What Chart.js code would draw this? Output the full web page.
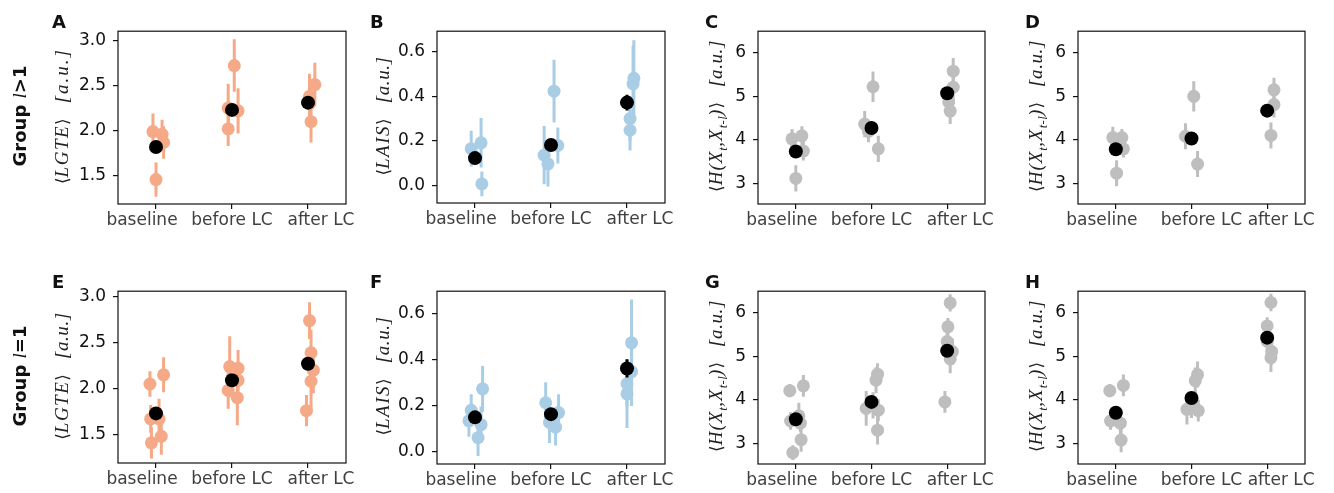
<!DOCTYPE html>
<html>
<head>
<meta charset="utf-8">
<script src="https://cdn.jsdelivr.net/npm/chart.js@4.4.1/dist/chart.umd.min.js"></script>
<style>
  body { margin: 0; background: #fff; width: 1334px; height: 493px; position: relative; overflow: hidden; font-family: 'DejaVu Sans', sans-serif; }
  canvas { position: absolute; }
  .rot { position: absolute; transform: translate(-50%, -50%) rotate(-90deg); white-space: nowrap; }
  .ylab { font-family: 'Liberation Serif', 'DejaVu Serif', serif; font-style: italic; font-size: 19px; letter-spacing: 1.5px; color: #222; }
  .ylab.ent { letter-spacing: 1px; }
  .ylab sub { font-size: 13px; letter-spacing: 0.3px; }
  .ylab .br { font-family: 'DejaVu Serif', serif; font-style: normal; font-size: 17px; letter-spacing: 0; }
  .ylab .unit { margin-left: 15px; letter-spacing: 0.6px; }
  .ylab .unit.wide { letter-spacing: 2px; }
  .group { font-weight: bold; font-size: 18px; color: #111; }
  .group i { font-family: 'Liberation Serif', serif; font-weight: normal; font-size: 19px; }
  .letter { position: absolute; font-weight: bold; font-size: 18px; color: #111; }
</style>
</head>
<body>
<script>
const categories = ['baseline', 'before LC', 'after LC'];

// A: LGTE, group l>1
const lgteHighX = [-0.04, 0.08, 0.10, 0.00, 0.95, 0.95, 1.03, 1.08, 2.02, 2.09, 2.04, 2.02];
const lgteHighY = [1.99, 1.96, 1.87, 1.46, 2.25, 2.02, 2.72, 2.22, 2.30, 2.51, 2.10, 2.38];
const lgteHighErr = [0.20, 0.16, 0.18, 0.19, 0.27, 0.19, 0.29, 0.25, 0.20, 0.24, 0.23, 0.25];
const lgteHighMean = [1.82, 2.23, 2.31];
const lgteHighMeanErr = [0.03, 0.03, 0.03];

// B: LAIS, group l>1
const laisHighX = [-0.05, 0.08, 0.09, 0.91, 0.96, 1.04, 1.09, 2.04, 2.04, 2.08, 2.09];
const laisHighY = [0.166, 0.192, 0.009, 0.137, 0.098, 0.422, 0.18, 0.248, 0.30, 0.454, 0.479];
const laisHighErr = [0.08, 0.11, 0.055, 0.13, 0.10, 0.14, 0.08, 0.09, 0.10, 0.17, 0.17];
const laisHighMean = [0.124, 0.182, 0.371];
const laisHighMeanErr = [0.02, 0.02, 0.035];

// C: H(Xt, Xt-l), group l>1
const entHighX = [-0.05, 0.08, 0.10, 0.00, 0.91, 0.96, 1.02, 1.09, 2.08, 2.08, 2.02, 2.04];
const entHighY = [4.02, 4.09, 3.74, 3.11, 4.36, 4.19, 5.22, 3.79, 5.58, 5.21, 4.87, 4.66];
const entHighErr = [0.23, 0.22, 0.22, 0.30, 0.30, 0.25, 0.35, 0.30, 0.30, 0.30, 0.30, 0.30];
const entHighMean = [3.73, 4.27, 5.07];
const entHighMeanErr = [0.05, 0.05, 0.05];

// D: H(Xt, Xt-l) second measure, group l>1
const ent2HighX = [-0.04, 0.08, 0.10, 0.01, 0.92, 1.03, 1.08, 2.09, 2.09, 2.05];
const ent2HighY = [4.05, 4.05, 3.79, 3.23, 4.08, 5.00, 3.44, 5.15, 4.81, 4.10];
const ent2HighErr = [0.25, 0.20, 0.20, 0.30, 0.30, 0.35, 0.30, 0.28, 0.30, 0.30];
const ent2HighMean = [3.78, 4.03, 4.67];
const ent2HighMeanErr = [0.05, 0.05, 0.05];

// E: LGTE, group l=1
const lgteOneX = [-0.08, 0.10, -0.07, 0.04, -0.06, 0.07, 0.95, 0.97, 1.08, 1.08, 1.07, 2.02, 2.04, 2.07, 2.04, 1.98];
const lgteOneY = [2.05, 2.15, 1.67, 1.67, 1.41, 1.48, 1.98, 2.24, 2.22, 2.09, 1.90, 2.74, 2.39, 2.20, 2.08, 1.76];
const lgteOneErr = [0.14, 0.19, 0.15, 0.22, 0.17, 0.20, 0.20, 0.33, 0.20, 0.20, 0.30, 0.20, 0.25, 0.25, 0.30, 0.17];
const lgteOneMean = [1.73, 2.09, 2.27];
const lgteOneMeanErr = [0.03, 0.03, 0.03];

// F: LAIS, group l=1
const laisOneX = [-0.05, -0.08, 0.10, 0.08, 0.04, 0.93, 0.98, 1.10, 1.06, 2.06, 2.06, 2.00, 2.00];
const laisOneY = [0.179, 0.133, 0.273, 0.116, 0.059, 0.212, 0.126, 0.169, 0.105, 0.474, 0.348, 0.295, 0.251];
const laisOneErr = [0.07, 0.07, 0.10, 0.08, 0.08, 0.09, 0.09, 0.08, 0.08, 0.19, 0.15, 0.10, 0.15];
const laisOneMean = [0.148, 0.162, 0.362];
const laisOneMeanErr = [0.02, 0.02, 0.04];

// G: H(Xt, Xt-l), group l=1
const entOneX = [-0.08, 0.10, -0.07, 0.04, 0.06, 0.07, -0.04, 0.93, 1.02, 1.06, 1.08, 1.09, 1.08, 2.04, 2.01, 2.00, 2.07, 2.04, 1.97];
const entOneY = [4.21, 4.32, 3.51, 3.63, 3.46, 3.08, 2.78, 3.80, 3.87, 4.45, 4.59, 3.76, 3.30, 6.23, 5.68, 5.34, 5.11, 4.94, 3.95];
const entOneErr = [0.15, 0.25, 0.20, 0.30, 0.20, 0.28, 0.17, 0.40, 0.30, 0.30, 0.25, 0.25, 0.33, 0.20, 0.20, 0.25, 0.30, 0.33, 0.25];
const entOneMean = [3.55, 3.95, 5.13];
const entOneMeanErr = [0.05, 0.05, 0.05];

// H: H(Xt, Xt-l) second measure, group l=1
const ent2OneX = [-0.08, 0.10, -0.07, 0.06, 0.07, 0.94, 1.05, 1.08, 1.09, 1.00, 2.05, 2.00, 2.06, 2.05, 2.00];
const ent2OneY = [4.21, 4.33, 3.51, 3.46, 3.07, 3.78, 4.44, 4.58, 3.75, 3.88, 6.24, 5.70, 5.11, 4.97, 5.35];
const ent2OneErr = [0.15, 0.25, 0.20, 0.25, 0.28, 0.35, 0.30, 0.30, 0.25, 0.30, 0.20, 0.20, 0.30, 0.33, 0.20];
const ent2OneMean = [3.70, 4.04, 5.43];
const ent2OneMeanErr = [0.05, 0.05, 0.05];

const lgteTicks = [1.5, 2.0, 2.5, 3.0];
const laisTicks = [0.0, 0.2, 0.4, 0.6];
const entTicks = [3, 4, 5, 6];

const ORANGE = '#f5a986', BLUE = '#a9cde5', GRAY = '#bebebe';

// error bars drawn under each dataset's markers
const errorBars = {
  id: 'errorBars',
  beforeDatasetDraw(chart, args) {
    const ds = chart.data.datasets[args.index];
    const xs = chart.scales.x, ys = chart.scales.y, ctx = chart.ctx, a = chart.chartArea;
    ctx.save();
    ctx.beginPath();
    ctx.rect(a.left, a.top, a.right - a.left, a.bottom - a.top);
    ctx.clip();
    ctx.strokeStyle = ds.errColor;
    ctx.lineWidth = 3;
    ds.data.forEach(p => {
      const px = xs.getPixelForValue(p.x);
      ctx.beginPath();
      ctx.moveTo(px, ys.getPixelForValue(p.y - p.e));
      ctx.lineTo(px, ys.getPixelForValue(p.y + p.e));
      ctx.stroke();
    });
    ctx.restore();
  }
};

// full axes box like matplotlib spines, plus category labels nudged apart as in the figure
const frame = {
  id: 'frame',
  afterDraw(chart) {
    const a = chart.chartArea, ctx = chart.ctx, xs = chart.scales.x;
    const nudge = chart.options.plugins.frame.nudge;
    ctx.save();
    ctx.strokeStyle = '#111';
    ctx.lineWidth = 1.2;
    ctx.strokeRect(a.left, a.top, a.right - a.left, a.bottom - a.top);
    ctx.fillStyle = '#404040';
    ctx.font = '17px "DejaVu Sans"';
    ctx.textAlign = 'center';
    ctx.textBaseline = 'top';
    categories.forEach((c, i) => {
      ctx.fillText(c, xs.getPixelForValue(i) + nudge[i], a.bottom + 8);
    });
    ctx.restore();
  }
};

function addText(cls, html, x, y) {
  const d = document.createElement('div');
  d.className = cls;
  d.innerHTML = html;
  d.style.left = x + 'px';
  d.style.top = y + 'px';
  document.body.appendChild(d);
}

function makePanel(cfg) {
  const padL = 75, padT = 14, padR = 30, padB = 36;
  const w = cfg.box.r - cfg.box.l, h = cfg.box.b - cfg.box.t;
  const cv = document.createElement('canvas');
  cv.width = w + padL + padR;
  cv.height = h + padT + padB;
  cv.style.left = (cfg.box.l - padL) + 'px';
  cv.style.top = (cfg.box.t - padT) + 'px';
  document.body.appendChild(cv);

  const pts = cfg.x.map((x, i) => ({ x: x, y: cfg.y[i], e: cfg.err[i] }));
  const means = cfg.mean.map((m, i) => ({ x: i, y: m, e: cfg.meanErr[i] }));

  new Chart(cv, {
    type: 'scatter',
    data: {
      datasets: [
        { data: means, order: 0, errColor: '#000', backgroundColor: '#000', borderWidth: 0, pointRadius: 7 },
        { data: pts, order: 1, errColor: cfg.color, backgroundColor: cfg.color, borderWidth: 0, pointRadius: 6.5 }
      ]
    },
    options: {
      responsive: false,
      animation: false,
      events: [],
      layout: { padding: { top: padT, right: padR, left: 0, bottom: 0 } },
      plugins: { legend: { display: false }, tooltip: { enabled: false }, frame: { nudge: cfg.nudge } },
      scales: {
        x: {
          type: 'linear', min: -0.5, max: 2.5,
          afterBuildTicks: s => { s.ticks = categories.map((c, i) => ({ value: i })); },
          afterFit: s => { s.height = padB; },
          ticks: { callback: () => '', padding: 3, maxRotation: 0, autoSkip: false },
          grid: { display: true, drawOnChartArea: false, drawTicks: true, tickLength: 5, color: '#111', lineWidth: 1.2 },
          border: { display: false }
        },
        y: {
          min: cfg.min, max: cfg.max,
          afterBuildTicks: s => { s.ticks = cfg.ticks.map(v => ({ value: v })); },
          afterFit: s => { s.width = padL; },
          ticks: { callback: v => v.toFixed(cfg.dec), color: '#111', font: { family: 'DejaVu Sans', size: 17 }, padding: 7 },
          grid: { display: true, drawOnChartArea: false, drawTicks: true, tickLength: 5, color: '#111', lineWidth: 1.2 },
          border: { display: false }
        }
      }
    },
    plugins: [errorBars, frame]
  });

  addText('letter', cfg.letter, cfg.letterX, cfg.box.t - 17);
  addText(cfg.ylabClass, cfg.ylabel, cfg.ylabX, (cfg.box.t + cfg.box.b) / 2);
}

const lgteLab = '<span class="br">⟨</span>LGTE<span class="br">⟩</span><span class="unit wide">[a.u.]</span>';
const lgteLab2 = '<span class="br">⟨</span>LGTE<span class="br">⟩</span><span class="unit">[a.u.]</span>';
const laisLab = '<span class="br">⟨</span>LAIS<span class="br">⟩</span><span class="unit">[a.u.]</span>';
const entLab = '<span class="br">⟨</span>H(X<sub>t</sub>,X<sub>t-l</sub>)<span class="br">⟩</span><span class="unit">[a.u.]</span>';

const nudgeA = [-14, 0, 13], nudgeD = [-14, 10, 14];

const panels = [
  { letter: 'A', letterX: 52, ylabX: 62, box: { l: 118, t: 28, r: 346, b: 204 }, x: lgteHighX, y: lgteHighY, err: lgteHighErr, mean: lgteHighMean, meanErr: lgteHighMeanErr, color: ORANGE, min: 1.19, max: 3.10, ticks: lgteTicks, dec: 1, ylabel: lgteLab, ylabClass: 'rot ylab', nudge: nudgeA },
  { letter: 'B', letterX: 370, ylabX: 383, box: { l: 437, t: 28, r: 665, b: 203 }, x: laisHighX, y: laisHighY, err: laisHighErr, mean: laisHighMean, meanErr: laisHighMeanErr, color: BLUE, min: -0.076, max: 0.689, ticks: laisTicks, dec: 1, ylabel: laisLab, ylabClass: 'rot ylab', nudge: nudgeA },
  { letter: 'C', letterX: 705, ylabX: 718, box: { l: 758, t: 28, r: 985, b: 204 }, x: entHighX, y: entHighY, err: entHighErr, mean: entHighMean, meanErr: entHighMeanErr, color: GRAY, min: 2.52, max: 6.5, ticks: entTicks, dec: 0, ylabel: entLab, ylabClass: 'rot ylab ent', nudge: nudgeA },
  { letter: 'D', letterX: 1025, ylabX: 1038, box: { l: 1078, t: 28, r: 1305, b: 204 }, x: ent2HighX, y: ent2HighY, err: ent2HighErr, mean: ent2HighMean, meanErr: ent2HighMeanErr, color: GRAY, min: 2.52, max: 6.5, ticks: entTicks, dec: 0, ylabel: entLab, ylabClass: 'rot ylab ent', nudge: nudgeD },
  { letter: 'E', letterX: 52, ylabX: 62, box: { l: 118, t: 288, r: 346, b: 463 }, x: lgteOneX, y: lgteOneY, err: lgteOneErr, mean: lgteOneMean, meanErr: lgteOneMeanErr, color: ORANGE, min: 1.19, max: 3.06, ticks: lgteTicks, dec: 1, ylabel: lgteLab2, ylabClass: 'rot ylab', nudge: nudgeA },
  { letter: 'F', letterX: 370, ylabX: 383, box: { l: 437, t: 288, r: 665, b: 464 }, x: laisOneX, y: laisOneY, err: laisOneErr, mean: laisOneMean, meanErr: laisOneMeanErr, color: BLUE, min: -0.056, max: 0.70, ticks: laisTicks, dec: 1, ylabel: laisLab, ylabClass: 'rot ylab', nudge: nudgeA },
  { letter: 'G', letterX: 705, ylabX: 718, box: { l: 758, t: 288, r: 985, b: 464 }, x: entOneX, y: entOneY, err: entOneErr, mean: entOneMean, meanErr: entOneMeanErr, color: GRAY, min: 2.52, max: 6.5, ticks: entTicks, dec: 0, ylabel: entLab, ylabClass: 'rot ylab ent', nudge: nudgeA },
  { letter: 'H', letterX: 1025, ylabX: 1038, box: { l: 1078, t: 288, r: 1305, b: 464 }, x: ent2OneX, y: ent2OneY, err: ent2OneErr, mean: ent2OneMean, meanErr: ent2OneMeanErr, color: GRAY, min: 2.52, max: 6.5, ticks: entTicks, dec: 0, ylabel: entLab, ylabClass: 'rot ylab ent', nudge: nudgeD }
];

panels.forEach(makePanel);

addText('rot group', 'Group <i>l</i>&gt;1', 20, 116);
addText('rot group', 'Group <i>l</i>=1', 20, 376);
</script>
</body>
</html>
